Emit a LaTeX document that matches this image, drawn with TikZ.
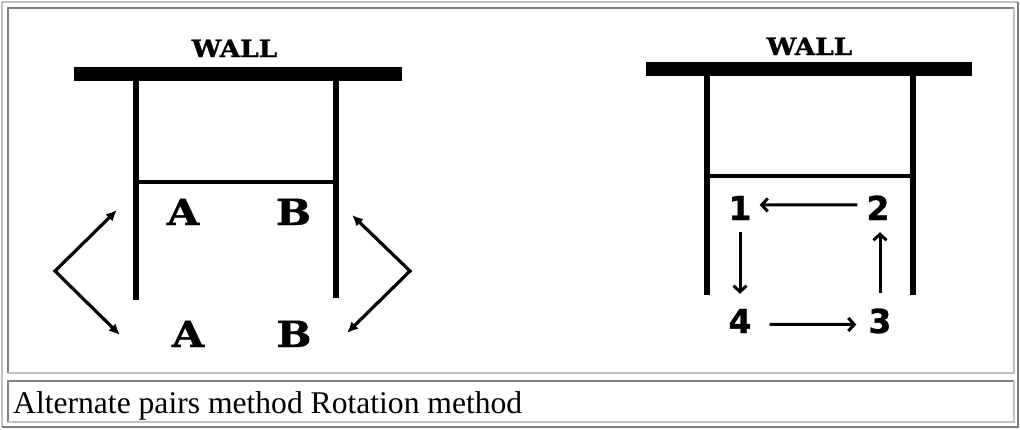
\documentclass[tikz,border=0pt]{standalone}
\usepackage{fontspec}
\setmainfont{Liberation Serif}
\newfontfamily\slabfont[BoldFeatures={FakeBold=1.2}]{DejaVu Serif}
\newfontfamily\digitfont[BoldFeatures={FakeBold=1}]{DejaVu Sans}
\usetikzlibrary{arrows.meta}
\definecolor{lightframe}{HTML}{C0C0C0}
\definecolor{darkframe}{HTML}{808080}
\begin{document}
\begin{tikzpicture}[x=1pt,y=-1pt,
  post/.style={line width=6.5pt},
  crossbar/.style={line width=3.5pt},
  walllabel/.style={font=\slabfont\bfseries\fontsize{24}{24}\selectfont, inner sep=0pt, anchor=base, xscale=1.1},
  letter/.style={font=\slabfont\bfseries\fontsize{36}{36}\selectfont, inner sep=0pt, anchor=base, xscale=1.15},
  digit/.style={font=\digitfont\bfseries\fontsize{33}{33}\selectfont, inner sep=0pt, anchor=base},
  swaparrow/.style={line width=3.2pt, {Latex[length=11pt,width=10pt]}-{Latex[length=11pt,width=10pt]}},
  rotarrow/.style={line width=3pt, -{Straight Barb[length=6pt,width=13pt,line width=3pt]}},
  frameline/.style={line width=2pt},
]
\useasboundingbox (0,0) rectangle (1020,429);
\fill[white] (0,0) rectangle (1020,429);
% table frame
\draw[frameline, lightframe] (2,427) -- (2,2) -- (1018,2);
\draw[frameline, darkframe] (2,427) -- (1018,427) -- (1018,2);
\draw[frameline, darkframe] (8,373) -- (8,8) -- (1014,8);
\draw[frameline, lightframe] (8,373) -- (1014,373) -- (1014,8);
\draw[frameline, darkframe] (8,422) -- (8,381) -- (1014,381);
\draw[frameline, lightframe] (8,422) -- (1014,422) -- (1014,381);

% ---------- left: alternate pairs ----------
\node[walllabel] (wallL) at (234.5,57) {WALL};
\fill (74,67) rectangle (402,81);
\draw[post] (136,81) -- (136,300);
\draw[post] (336,81) -- (336,298);
\draw[crossbar] (136,182) -- (336,182);
\node[letter] (A1) at (183,225) {A};
\node[letter] (B1) at (293.5,225) {B};
\node[letter] (A2) at (188,347) {A};
\node[letter] (B2) at (294,347) {B};
\coordinate (ltop) at (117,210);
\coordinate (lmid) at (55,271);
\coordinate (lbot) at (120,335);
\coordinate (rtop) at (352,215);
\coordinate (rmid) at (410,271);
\coordinate (rbot) at (347,333);
\draw[swaparrow] (ltop) -- (lmid) -- (lbot);
\draw[swaparrow] (rtop) -- (rmid) -- (rbot);

% ---------- right: rotation ----------
\node[walllabel] (wallR) at (809.5,55) {WALL};
\fill (646,62) rectangle (972,76);
\draw[post] (707,76) -- (707,295);
\draw[post] (913,76) -- (913,295);
\draw[crossbar] (707,176) -- (913,176);
\node[digit] (n1) at (740,220) {1};
\node[digit] (n2) at (878,220) {2};
\node[digit] (n4) at (740,333) {4};
\node[digit] (n3) at (880,333) {3};
\draw[rotarrow, shorten <=9pt, shorten >=8pt] ([yshift=3pt]n2.west) -- ([yshift=3pt]n1.east);
\draw[rotarrow, shorten <=12pt, shorten >=15pt] (n1.south) -- (n4.north);
\draw[rotarrow, shorten <=15pt, shorten >=12pt] (n3.north) -- (n3.north |- n2.south);
\draw[rotarrow, shorten <=18pt, shorten >=12pt] ([yshift=-3.5pt]n4.east) -- ([yshift=-3.5pt]n3.west);

% caption
\node[anchor=base west, inner sep=0pt, font=\fontsize{31.6}{31.6}\selectfont] (caption) at (13,413) {Alternate pairs method Rotation method};
\end{tikzpicture}
\end{document}
